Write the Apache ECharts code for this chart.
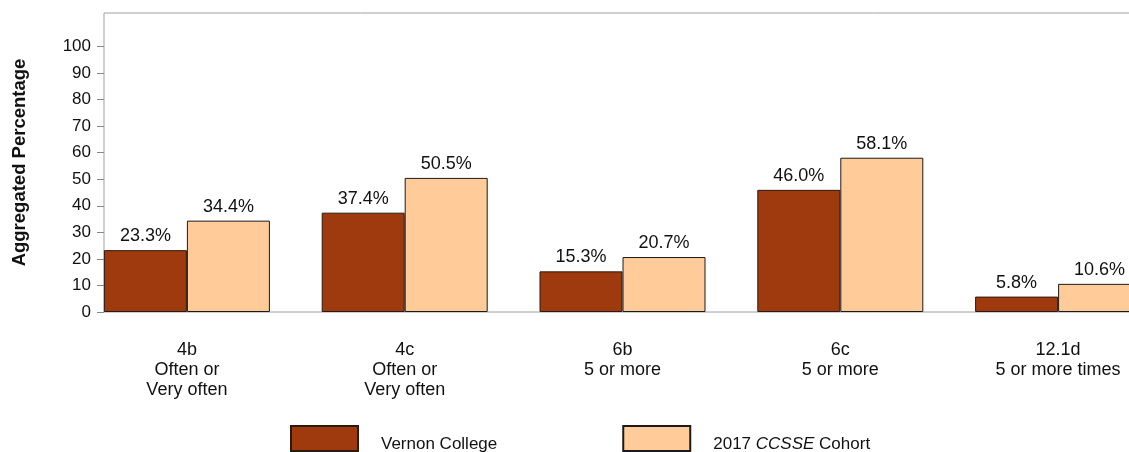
<!DOCTYPE html>
<html>
<head>
<meta charset="utf-8">
<script src="https://cdn.jsdelivr.net/npm/echarts@6/dist/echarts.min.js"></script>
<style>
  html, body { margin: 0; padding: 0; background: #fff; }
  #chart { width: 1129px; height: 452px; }
</style>
</head>
<body>
<div id="chart"></div>
<script>
// data
const categories = ['4b\nOften or\nVery often', '4c\nOften or\nVery often', '6b\n5 or more', '6c\n5 or more', '12.1d\n5 or more times'];
const vernonCollege = [23.3, 37.4, 15.3, 46.0, 5.8];
const ccsseCohort = [34.4, 50.5, 20.7, 58.1, 10.6];
const yTicks = [0, 10, 20, 30, 40, 50, 60, 70, 80, 90, 100];

const chart = echarts.init(document.getElementById('chart'));
const font = 'Liberation Sans, Arial, sans-serif';
const yMax = 112.6;

const barLabel = {
    show: true,
    position: 'top',
    distance: 5,
    color: '#111',
    fontSize: 18,
    fontFamily: font,
    formatter: p => p.value.toFixed(1) + '%'
};

const option = {
    animation: false,
    grid: [
        // frame + y axis
        {left: 104, top: 13, height: 299, width: 1100, show: true, borderColor: '#a0a0a0', borderWidth: 1,
         backgroundColor: 'transparent', outerBoundsMode: 'none'},
        // bars
        {left: 78, top: 13, height: 299, width: 1089, outerBoundsMode: 'none'}
    ],
    xAxis: [
        {gridIndex: 0, type: 'value', show: false},
        {
            gridIndex: 1,
            type: 'category',
            data: categories,
            axisLine: {show: false},
            axisTick: {show: false},
            axisLabel: {
                margin: 28,
                color: '#111',
                fontSize: 18,
                lineHeight: 20,
                fontFamily: font,
                interval: 0
            }
        }
    ],
    yAxis: [
        {
            gridIndex: 0,
            type: 'value',
            min: 0,
            max: yMax,
            name: 'Aggregated Percentage',
            nameLocation: 'middle',
            nameGap: 75,
            nameTextStyle: {fontSize: 18.5, fontWeight: 'bold', color: '#111', fontFamily: font},
            axisLine: {show: false},
            axisTick: {show: true, length: 7, customValues: yTicks, lineStyle: {color: '#888'}},
            axisLabel: {customValues: yTicks, margin: 13, color: '#111', fontSize: 17, fontFamily: font},
            splitLine: {show: false}
        },
        {gridIndex: 1, type: 'value', min: 0, max: yMax, show: false, splitLine: {show: false}}
    ],
    legend: {
        left: 290,
        top: 425,
        padding: 0,
        itemWidth: 67,
        itemHeight: 25,
        itemGap: 125,
        icon: 'rect',
        textStyle: {
            fontSize: 17,
            color: '#111',
            fontFamily: font,
            padding: [12, 0, 0, 18],
            rich: {i: {fontStyle: 'italic', fontSize: 17, fontFamily: font, color: '#111'}}
        },
        formatter: name => name === '2017 CCSSE Cohort' ? '2017 {i|CCSSE} Cohort' : name,
        data: ['Vernon College', '2017 CCSSE Cohort']
    },
    series: [
        {
            name: 'Vernon College',
            type: 'bar',
            xAxisIndex: 1,
            yAxisIndex: 1,
            data: vernonCollege,
            barWidth: 83,
            barGap: '0%',
            itemStyle: {color: '#9e3a0e', borderColor: '#2a1a10', borderWidth: 1},
            label: barLabel
        },
        {
            name: '2017 CCSSE Cohort',
            type: 'bar',
            xAxisIndex: 1,
            yAxisIndex: 1,
            data: ccsseCohort,
            barWidth: 83,
            barGap: '0%',
            itemStyle: {color: '#ffcc99', borderColor: '#1a1a1a', borderWidth: 1},
            label: barLabel
        }
    ]
};

chart.setOption(option);
</script>
</body>
</html>
